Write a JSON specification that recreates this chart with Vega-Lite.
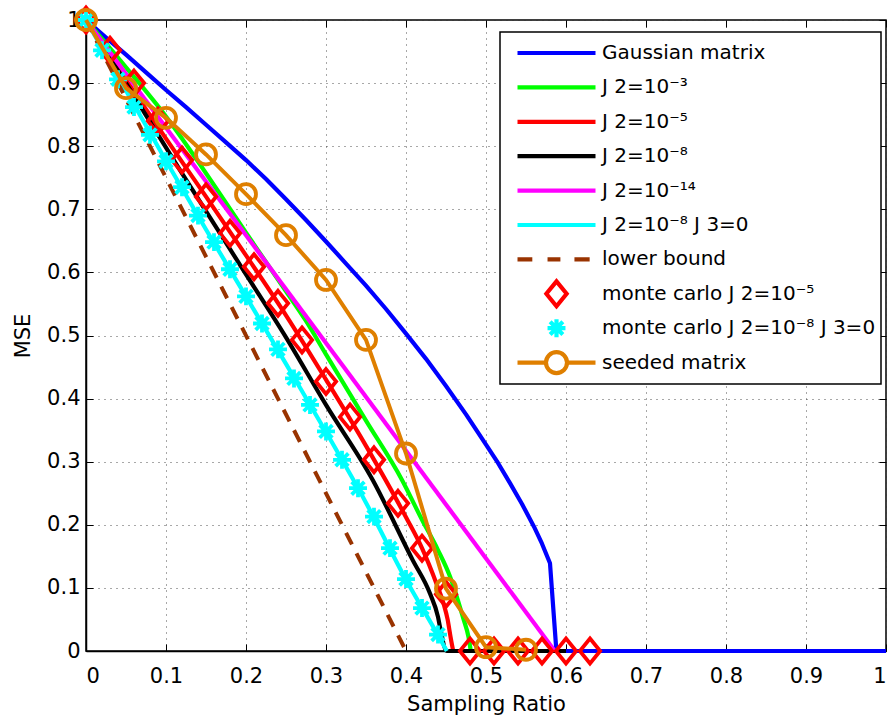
{
  "$schema": "https://vega.github.io/schema/vega-lite/v6.json",
  "width": 800,
  "height": 631,
  "autosize": {"type": "none"},
  "padding": {"left": 86, "top": 20, "right": 7, "bottom": 67},
  "background": "white",
  "config": {
    "font": "DejaVu Sans",
    "view": {"stroke": "black", "strokeWidth": 1.5},
    "axis": {
      "labelFont": "DejaVu Sans", "labelFontSize": 21, "labelColor": "black",
      "titleFont": "DejaVu Sans", "titleFontSize": 21, "titleFontWeight": "normal", "titleColor": "black",
      "domainColor": "black", "domainWidth": 1.5, "tickColor": "black", "tickWidth": 1,
      "gridColor": "#333333", "gridDash": [1, 5], "gridOpacity": 0.85, "gridWidth": 1
    },
    "legend": {
      "orient": "none", "legendX": 414, "legendY": 12,
      "padding": 5, "symbolOffset": 10, "labelOffset": 4,
      "labelFont": "DejaVu Sans", "labelFontSize": 20, "labelColor": "black",
      "strokeColor": "black", "strokeWidth": 1.5, "fillColor": "white",
      "symbolSize": 6084, "symbolStrokeWidth": 4.2, "clipHeight": 32, "rowPadding": 2.4,
      "symbolFillColor": "transparent", "labelLimit": 400
    }
  },
  "data": {"values": [
    {"s": "Gaussian matrix", "x": 0, "y": 1},
    {"s": "Gaussian matrix", "x": 0.025, "y": 0.972},
    {"s": "Gaussian matrix", "x": 0.05, "y": 0.945},
    {"s": "Gaussian matrix", "x": 0.075, "y": 0.917},
    {"s": "Gaussian matrix", "x": 0.1, "y": 0.889},
    {"s": "Gaussian matrix", "x": 0.125, "y": 0.862},
    {"s": "Gaussian matrix", "x": 0.15, "y": 0.834},
    {"s": "Gaussian matrix", "x": 0.175, "y": 0.806},
    {"s": "Gaussian matrix", "x": 0.2, "y": 0.778},
    {"s": "Gaussian matrix", "x": 0.225, "y": 0.748},
    {"s": "Gaussian matrix", "x": 0.25, "y": 0.716},
    {"s": "Gaussian matrix", "x": 0.275, "y": 0.683},
    {"s": "Gaussian matrix", "x": 0.3, "y": 0.649},
    {"s": "Gaussian matrix", "x": 0.325, "y": 0.614},
    {"s": "Gaussian matrix", "x": 0.35, "y": 0.579},
    {"s": "Gaussian matrix", "x": 0.375, "y": 0.542},
    {"s": "Gaussian matrix", "x": 0.4, "y": 0.503},
    {"s": "Gaussian matrix", "x": 0.425, "y": 0.463},
    {"s": "Gaussian matrix", "x": 0.45, "y": 0.42},
    {"s": "Gaussian matrix", "x": 0.475, "y": 0.375},
    {"s": "Gaussian matrix", "x": 0.5, "y": 0.327},
    {"s": "Gaussian matrix", "x": 0.515, "y": 0.298},
    {"s": "Gaussian matrix", "x": 0.53, "y": 0.266},
    {"s": "Gaussian matrix", "x": 0.545, "y": 0.233},
    {"s": "Gaussian matrix", "x": 0.56, "y": 0.197},
    {"s": "Gaussian matrix", "x": 0.57, "y": 0.17},
    {"s": "Gaussian matrix", "x": 0.58, "y": 0.139},
    {"s": "Gaussian matrix", "x": 0.588, "y": 0},
    {"s": "Gaussian matrix", "x": 1, "y": 0},
    {"s": "J 2=10⁻³", "x": 0, "y": 1},
    {"s": "J 2=10⁻³", "x": 0.05, "y": 0.925},
    {"s": "J 2=10⁻³", "x": 0.1, "y": 0.847},
    {"s": "J 2=10⁻³", "x": 0.13, "y": 0.794},
    {"s": "J 2=10⁻³", "x": 0.174, "y": 0.712},
    {"s": "J 2=10⁻³", "x": 0.2, "y": 0.663},
    {"s": "J 2=10⁻³", "x": 0.25, "y": 0.57},
    {"s": "J 2=10⁻³", "x": 0.274, "y": 0.525},
    {"s": "J 2=10⁻³", "x": 0.3, "y": 0.47},
    {"s": "J 2=10⁻³", "x": 0.35, "y": 0.365},
    {"s": "J 2=10⁻³", "x": 0.395, "y": 0.271},
    {"s": "J 2=10⁻³", "x": 0.42, "y": 0.208},
    {"s": "J 2=10⁻³", "x": 0.44, "y": 0.16},
    {"s": "J 2=10⁻³", "x": 0.455, "y": 0.118},
    {"s": "J 2=10⁻³", "x": 0.465, "y": 0.08},
    {"s": "J 2=10⁻³", "x": 0.472, "y": 0.05},
    {"s": "J 2=10⁻³", "x": 0.478, "y": 0.023},
    {"s": "J 2=10⁻³", "x": 0.481, "y": 0},
    {"s": "J 2=10⁻⁵", "x": 0, "y": 1},
    {"s": "J 2=10⁻⁵", "x": 0.05, "y": 0.905},
    {"s": "J 2=10⁻⁵", "x": 0.1, "y": 0.812},
    {"s": "J 2=10⁻⁵", "x": 0.15, "y": 0.72},
    {"s": "J 2=10⁻⁵", "x": 0.2, "y": 0.627},
    {"s": "J 2=10⁻⁵", "x": 0.25, "y": 0.532},
    {"s": "J 2=10⁻⁵", "x": 0.3, "y": 0.43},
    {"s": "J 2=10⁻⁵", "x": 0.35, "y": 0.325},
    {"s": "J 2=10⁻⁵", "x": 0.4, "y": 0.212},
    {"s": "J 2=10⁻⁵", "x": 0.42, "y": 0.163},
    {"s": "J 2=10⁻⁵", "x": 0.438, "y": 0.107},
    {"s": "J 2=10⁻⁵", "x": 0.447, "y": 0.075},
    {"s": "J 2=10⁻⁵", "x": 0.452, "y": 0.05},
    {"s": "J 2=10⁻⁵", "x": 0.456, "y": 0.02},
    {"s": "J 2=10⁻⁵", "x": 0.459, "y": 0},
    {"s": "J 2=10⁻⁸", "x": 0, "y": 1},
    {"s": "J 2=10⁻⁸", "x": 0.05, "y": 0.9},
    {"s": "J 2=10⁻⁸", "x": 0.1175, "y": 0.762},
    {"s": "J 2=10⁻⁸", "x": 0.2, "y": 0.597},
    {"s": "J 2=10⁻⁸", "x": 0.25, "y": 0.497},
    {"s": "J 2=10⁻⁸", "x": 0.3, "y": 0.39},
    {"s": "J 2=10⁻⁸", "x": 0.3584, "y": 0.271},
    {"s": "J 2=10⁻⁸", "x": 0.4084, "y": 0.144},
    {"s": "J 2=10⁻⁸", "x": 0.43, "y": 0.091},
    {"s": "J 2=10⁻⁸", "x": 0.44, "y": 0.054},
    {"s": "J 2=10⁻⁸", "x": 0.4425, "y": 0.038},
    {"s": "J 2=10⁻⁸", "x": 0.451, "y": 0},
    {"s": "J 2=10⁻⁸", "x": 0.6, "y": 0},
    {"s": "J 2=10⁻¹⁴", "x": 0, "y": 1},
    {"s": "J 2=10⁻¹⁴", "x": 0.586, "y": 0},
    {"s": "J 2=10⁻⁸ J 3=0", "x": 0, "y": 1},
    {"s": "J 2=10⁻⁸ J 3=0", "x": 0.05, "y": 0.888},
    {"s": "J 2=10⁻⁸ J 3=0", "x": 0.1, "y": 0.777},
    {"s": "J 2=10⁻⁸ J 3=0", "x": 0.15, "y": 0.668},
    {"s": "J 2=10⁻⁸ J 3=0", "x": 0.2, "y": 0.562},
    {"s": "J 2=10⁻⁸ J 3=0", "x": 0.25, "y": 0.455},
    {"s": "J 2=10⁻⁸ J 3=0", "x": 0.3, "y": 0.347},
    {"s": "J 2=10⁻⁸ J 3=0", "x": 0.35, "y": 0.235},
    {"s": "J 2=10⁻⁸ J 3=0", "x": 0.4, "y": 0.113},
    {"s": "J 2=10⁻⁸ J 3=0", "x": 0.44, "y": 0.025},
    {"s": "J 2=10⁻⁸ J 3=0", "x": 0.451, "y": 0},
    {"s": "lower bound", "x": 0, "y": 1},
    {"s": "lower bound", "x": 0.4, "y": 0},
    {"s": "monte carlo J 2=10⁻⁵", "x": 0, "y": 1},
    {"s": "monte carlo J 2=10⁻⁵", "x": 0.03, "y": 0.952},
    {"s": "monte carlo J 2=10⁻⁵", "x": 0.06, "y": 0.9},
    {"s": "monte carlo J 2=10⁻⁵", "x": 0.09, "y": 0.84},
    {"s": "monte carlo J 2=10⁻⁵", "x": 0.12, "y": 0.778},
    {"s": "monte carlo J 2=10⁻⁵", "x": 0.15, "y": 0.72},
    {"s": "monte carlo J 2=10⁻⁵", "x": 0.18, "y": 0.662},
    {"s": "monte carlo J 2=10⁻⁵", "x": 0.21, "y": 0.609},
    {"s": "monte carlo J 2=10⁻⁵", "x": 0.24, "y": 0.551},
    {"s": "monte carlo J 2=10⁻⁵", "x": 0.27, "y": 0.493},
    {"s": "monte carlo J 2=10⁻⁵", "x": 0.3, "y": 0.427},
    {"s": "monte carlo J 2=10⁻⁵", "x": 0.33, "y": 0.371},
    {"s": "monte carlo J 2=10⁻⁵", "x": 0.36, "y": 0.303},
    {"s": "monte carlo J 2=10⁻⁵", "x": 0.39, "y": 0.234},
    {"s": "monte carlo J 2=10⁻⁵", "x": 0.42, "y": 0.163},
    {"s": "monte carlo J 2=10⁻⁵", "x": 0.45, "y": 0.09},
    {"s": "monte carlo J 2=10⁻⁵", "x": 0.48, "y": 0},
    {"s": "monte carlo J 2=10⁻⁵", "x": 0.51, "y": 0},
    {"s": "monte carlo J 2=10⁻⁵", "x": 0.54, "y": 0},
    {"s": "monte carlo J 2=10⁻⁵", "x": 0.57, "y": 0},
    {"s": "monte carlo J 2=10⁻⁵", "x": 0.6, "y": 0},
    {"s": "monte carlo J 2=10⁻⁵", "x": 0.63, "y": 0},
    {"s": "monte carlo J 2=10⁻⁸ J 3=0", "x": 0, "y": 1},
    {"s": "monte carlo J 2=10⁻⁸ J 3=0", "x": 0.02, "y": 0.952},
    {"s": "monte carlo J 2=10⁻⁸ J 3=0", "x": 0.04, "y": 0.906},
    {"s": "monte carlo J 2=10⁻⁸ J 3=0", "x": 0.06, "y": 0.862},
    {"s": "monte carlo J 2=10⁻⁸ J 3=0", "x": 0.08, "y": 0.818},
    {"s": "monte carlo J 2=10⁻⁸ J 3=0", "x": 0.1, "y": 0.776},
    {"s": "monte carlo J 2=10⁻⁸ J 3=0", "x": 0.12, "y": 0.735},
    {"s": "monte carlo J 2=10⁻⁸ J 3=0", "x": 0.14, "y": 0.69},
    {"s": "monte carlo J 2=10⁻⁸ J 3=0", "x": 0.16, "y": 0.648},
    {"s": "monte carlo J 2=10⁻⁸ J 3=0", "x": 0.18, "y": 0.605},
    {"s": "monte carlo J 2=10⁻⁸ J 3=0", "x": 0.2, "y": 0.562},
    {"s": "monte carlo J 2=10⁻⁸ J 3=0", "x": 0.22, "y": 0.519},
    {"s": "monte carlo J 2=10⁻⁸ J 3=0", "x": 0.24, "y": 0.478},
    {"s": "monte carlo J 2=10⁻⁸ J 3=0", "x": 0.26, "y": 0.432},
    {"s": "monte carlo J 2=10⁻⁸ J 3=0", "x": 0.28, "y": 0.39},
    {"s": "monte carlo J 2=10⁻⁸ J 3=0", "x": 0.3, "y": 0.348},
    {"s": "monte carlo J 2=10⁻⁸ J 3=0", "x": 0.32, "y": 0.303},
    {"s": "monte carlo J 2=10⁻⁸ J 3=0", "x": 0.34, "y": 0.258},
    {"s": "monte carlo J 2=10⁻⁸ J 3=0", "x": 0.36, "y": 0.213},
    {"s": "monte carlo J 2=10⁻⁸ J 3=0", "x": 0.38, "y": 0.163},
    {"s": "monte carlo J 2=10⁻⁸ J 3=0", "x": 0.4, "y": 0.114},
    {"s": "monte carlo J 2=10⁻⁸ J 3=0", "x": 0.42, "y": 0.068},
    {"s": "monte carlo J 2=10⁻⁸ J 3=0", "x": 0.44, "y": 0.026},
    {"s": "seeded matrix", "x": 0, "y": 1},
    {"s": "seeded matrix", "x": 0.05, "y": 0.892},
    {"s": "seeded matrix", "x": 0.1, "y": 0.845},
    {"s": "seeded matrix", "x": 0.15, "y": 0.787},
    {"s": "seeded matrix", "x": 0.2, "y": 0.724},
    {"s": "seeded matrix", "x": 0.25, "y": 0.659},
    {"s": "seeded matrix", "x": 0.3, "y": 0.588},
    {"s": "seeded matrix", "x": 0.35, "y": 0.493},
    {"s": "seeded matrix", "x": 0.4, "y": 0.313},
    {"s": "seeded matrix", "x": 0.45, "y": 0.099},
    {"s": "seeded matrix", "x": 0.5, "y": 0.006},
    {"s": "seeded matrix", "x": 0.55, "y": 0.002}
  ]},
  "layer": [
    {
      "transform": [{"filter": {"field": "s", "equal": "Gaussian matrix"}}],
      "mark": {"type": "line", "strokeWidth": 4.2, "strokeCap": "butt", "strokeJoin": "round"},
      "encoding": {
        "x": {"field": "x", "type": "quantitative", "scale": {"domain": [0, 1], "nice": false},
          "axis": {"orient": "bottom", "values": [0, 0.1, 0.2, 0.3, 0.4, 0.5, 0.6, 0.7, 0.8, 0.9, 1], "format": "~g", "tickSize": -7, "labelPadding": 21, "title": "Sampling Ratio", "titlePadding": 7, "grid": true}},
        "y": {"field": "y", "type": "quantitative", "scale": {"domain": [0, 1], "nice": false},
          "axis": {"orient": "left", "values": [0, 0.1, 0.2, 0.3, 0.4, 0.5, 0.6, 0.7, 0.8, 0.9, 1], "format": "~g", "tickSize": -7, "labelPadding": 13, "title": "MSE", "titlePadding": 13, "grid": true}},
        "color": {"field": "s", "type": "nominal", "title": null,
          "scale": {
            "domain": ["Gaussian matrix", "J 2=10⁻³", "J 2=10⁻⁵", "J 2=10⁻⁸", "J 2=10⁻¹⁴", "J 2=10⁻⁸ J 3=0", "lower bound", "monte carlo J 2=10⁻⁵", "monte carlo J 2=10⁻⁸ J 3=0", "seeded matrix"],
            "range": ["#0000ff", "#00ff00", "#ff0000", "#000000", "#ff00ff", "#00ffff", "#993300", "#ff0000", "#00ffff", "#df7f00"]
          }},
        "order": {"field": "x", "type": "quantitative"}
      }
    },
    {
      "transform": [{"filter": {"field": "s", "oneOf": ["J 2=10⁻³", "J 2=10⁻⁵", "J 2=10⁻⁸", "J 2=10⁻¹⁴", "J 2=10⁻⁸ J 3=0"]}}],
      "mark": {"type": "line", "strokeWidth": 4.2, "strokeCap": "butt", "strokeJoin": "round", "interpolate": "monotone"},
      "encoding": {
        "x": {"field": "x", "type": "quantitative", "scale": {"domain": [0, 1], "nice": false},
          "axis": {"orient": "top", "values": [0, 0.1, 0.2, 0.3, 0.4, 0.5, 0.6, 0.7, 0.8, 0.9, 1], "labels": false, "domain": false, "grid": false, "tickSize": -7, "title": null}},
        "y": {"field": "y", "type": "quantitative", "scale": {"domain": [0, 1], "nice": false},
          "axis": {"orient": "right", "values": [0, 0.1, 0.2, 0.3, 0.4, 0.5, 0.6, 0.7, 0.8, 0.9, 1], "labels": false, "domain": false, "grid": false, "tickSize": -7, "title": null}},
        "color": {"field": "s", "type": "nominal", "title": null},
        "detail": {"field": "s"},
        "order": {"field": "x", "type": "quantitative"}
      }
    },
    {
      "transform": [{"filter": {"field": "s", "equal": "lower bound"}}],
      "mark": {"type": "line", "strokeWidth": 4, "strokeDash": [13, 10], "color": "#993300", "strokeCap": "butt"},
      "encoding": {
        "x": {"field": "x", "type": "quantitative", "scale": {"domain": [0, 1], "nice": false}, "axis": null},
        "y": {"field": "y", "type": "quantitative", "scale": {"domain": [0, 1], "nice": false}, "axis": null}
      }
    },
    {
      "transform": [{"filter": {"field": "s", "oneOf": ["monte carlo J 2=10⁻⁵", "monte carlo J 2=10⁻⁸ J 3=0"]}}],
      "mark": {"type": "point", "filled": false, "strokeWidth": 3.8, "size": 6084, "opacity": 1},
      "encoding": {
        "x": {"field": "x", "type": "quantitative", "scale": {"domain": [0, 1], "nice": false}, "axis": null},
        "y": {"field": "y", "type": "quantitative", "scale": {"domain": [0, 1], "nice": false}, "axis": null},
        "color": {"field": "s", "type": "nominal", "title": null},
        "shape": {"field": "s", "type": "nominal", "title": null,
          "scale": {
            "domain": ["Gaussian matrix", "J 2=10⁻³", "J 2=10⁻⁵", "J 2=10⁻⁸", "J 2=10⁻¹⁴", "J 2=10⁻⁸ J 3=0", "lower bound", "monte carlo J 2=10⁻⁵", "monte carlo J 2=10⁻⁸ J 3=0", "seeded matrix"],
            "range": ["M-1,0H1", "M-1,0H1", "M-1,0H1", "M-1,0H1", "M-1,0H1", "M-1,0H1",
              "M-1,0H-0.62M-0.23,0H0.1M0.46,0H0.85",
              "M0,-0.32L0.26,0L0,0.32L-0.26,0Z",
              "M-0.23,0H0.23M0,-0.23V0.23M-0.163,-0.163L0.163,0.163M-0.163,0.163L0.163,-0.163",
              "M-1,0H-0.27M0.27,0H1M-0.27,0A0.27,0.27 0 1,1 0.27,0A0.27,0.27 0 1,1 -0.27,0"]
          }}
      }
    },
    {
      "transform": [{"filter": {"field": "s", "equal": "seeded matrix"}}],
      "mark": {"type": "line", "strokeWidth": 4, "color": "#df7f00"},
      "encoding": {
        "x": {"field": "x", "type": "quantitative", "scale": {"domain": [0, 1], "nice": false}, "axis": null},
        "y": {"field": "y", "type": "quantitative", "scale": {"domain": [0, 1], "nice": false}, "axis": null}
      }
    },
    {
      "transform": [{"filter": {"field": "s", "equal": "seeded matrix"}}],
      "mark": {"type": "point", "shape": "circle", "filled": false, "size": 400, "strokeWidth": 3.8, "color": "#df7f00", "opacity": 1},
      "encoding": {
        "x": {"field": "x", "type": "quantitative", "scale": {"domain": [0, 1], "nice": false}, "axis": null},
        "y": {"field": "y", "type": "quantitative", "scale": {"domain": [0, 1], "nice": false}, "axis": null}
      }
    }
  ],
  "resolve": {"axis": {"x": "independent", "y": "independent"}}
}
